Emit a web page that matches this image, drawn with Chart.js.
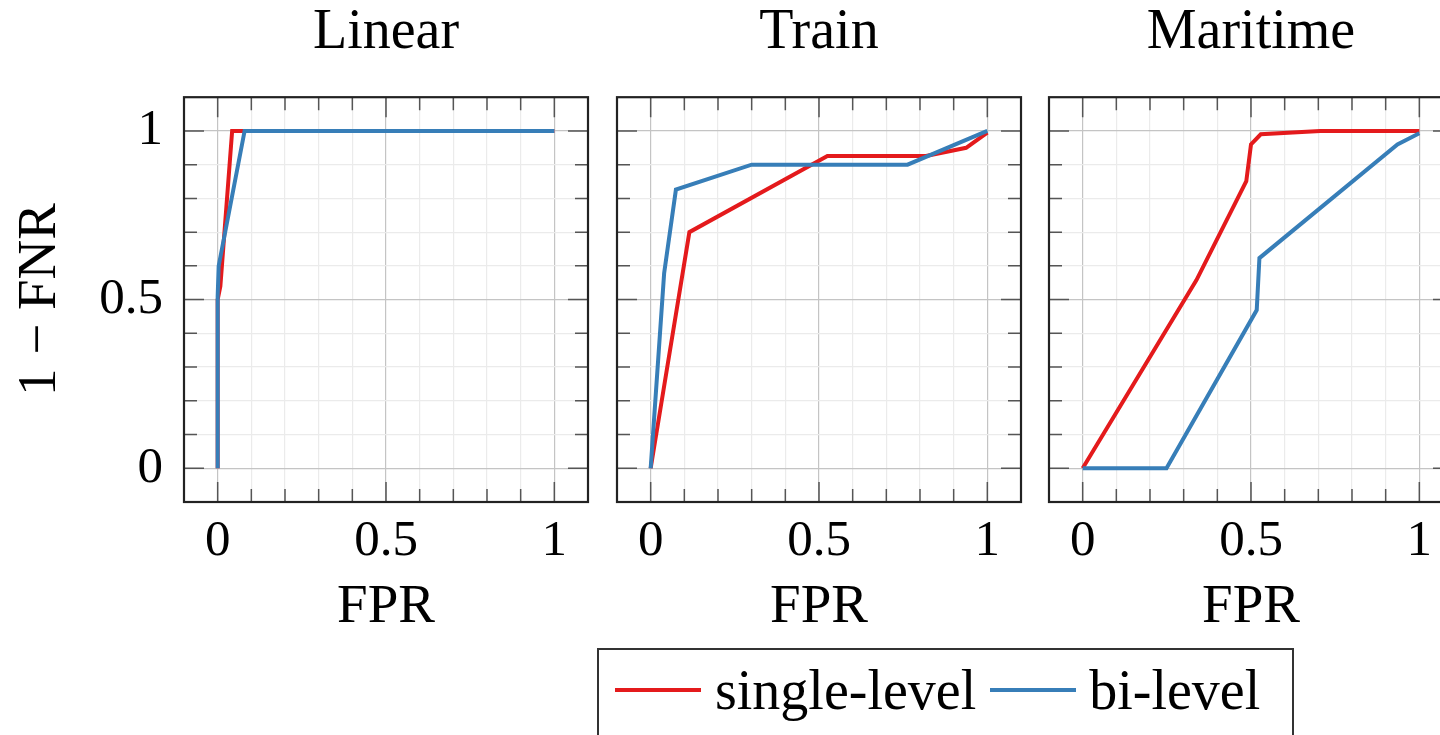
<!DOCTYPE html>
<html>
<head>
<meta charset="utf-8">
<script src="https://cdn.jsdelivr.net/npm/chart.js@4.4.0/dist/chart.umd.min.js"></script>
<style>
  html, body { margin: 0; padding: 0; background: #fff; width: 1440px; height: 735px; overflow: hidden; position: relative; }
  canvas.panel { position: absolute; top: 0; }
  #legend {
    position: absolute; left: 597px; top: 648px; width: 697px; height: 130px;
    box-sizing: border-box; border: 2px solid #333; background: #fff;
    font-family: "Liberation Serif", serif; font-size: 56px; color: #000;
  }
  #legend .row { display: flex; align-items: center; position: absolute; left: 16px; top: 8px; height: 64px; line-height: 64px; }
  #legend .swatch { display: inline-block; width: 86px; height: 4px; }
</style>
</head>
<body>
<canvas id="p0" class="panel" width="628" height="650" style="left:0px"></canvas>
<canvas id="p1" class="panel" width="628" height="650" style="left:433px"></canvas>
<canvas id="p2" class="panel" width="628" height="650" style="left:865px"></canvas>
<div id="legend">
  <div class="row">
    <span class="swatch" style="background:#e41a1c"></span>
    <span style="margin-left:14px">single-level</span>
    <span class="swatch" style="background:#377eb8;margin-left:14px"></span>
    <span style="margin-left:13px">bi-level</span>
  </div>
</div>
<script>
// values: [FPR, 1 - FNR]
const panelTitles = ['Linear', 'Train', 'Maritime'];
const tickValues = [0, 0.5, 1];

const linearSingle = [[0, 0], [0, 0.5], [0.008, 0.54], [0.043, 1], [1, 1]];
const linearBi = [[0, 0], [0, 0.51], [0.003, 0.6], [0.08, 1], [1, 1]];

const trainSingle = [[0, 0], [0.115, 0.70], [0.525, 0.926], [0.818, 0.926], [0.937, 0.95], [1, 0.995]];
const trainBi = [[0, 0], [0.04, 0.578], [0.075, 0.826], [0.30, 0.90], [0.763, 0.90], [1, 1]];

const maritimeSingle = [[0, 0], [0.338, 0.558], [0.486, 0.851], [0.50, 0.96], [0.529, 0.99], [0.706, 1], [1, 1]];
const maritimeBi = [[0, 0], [0.249, 0], [0.517, 0.469], [0.525, 0.623], [0.935, 0.96], [1, 0.993]];

const RED = '#e41a1c';
const BLUE = '#377eb8';
const serif = 'Liberation Serif';

function isMajor(v) {
  return tickValues.some(t => Math.abs(t - v) < 1e-6);
}
function isEdge(v) {
  return Math.abs(v + 0.1) < 1e-6 || Math.abs(v - 1.1) < 1e-6;
}
function tickLabel(v) {
  if (!isMajor(v)) return '';
  return Math.abs(v - 0.5) < 1e-6 ? '0.5' : String(Math.round(v));
}

// inward tick marks on all four sides + frame, like pgfplots
const frameTicks = {
  id: 'frameTicks',
  afterDatasetsDraw(chart) {
    const ctx = chart.ctx;
    const a = chart.chartArea;
    const xs = chart.scales.x, ys = chart.scales.y;
    ctx.save();
    ctx.strokeStyle = '#555';
    ctx.lineWidth = 1.5;
    ctx.beginPath();
    xs.ticks.forEach(t => {
      if (isEdge(t.value)) return;
      const len = isMajor(t.value) ? 20 : 13;
      const px = xs.getPixelForValue(t.value);
      ctx.moveTo(px, a.top); ctx.lineTo(px, a.top + len);
      ctx.moveTo(px, a.bottom); ctx.lineTo(px, a.bottom - len);
    });
    ys.ticks.forEach(t => {
      if (isEdge(t.value)) return;
      const len = isMajor(t.value) ? 20 : 13;
      const py = ys.getPixelForValue(t.value);
      ctx.moveTo(a.left, py); ctx.lineTo(a.left + len, py);
      ctx.moveTo(a.right, py); ctx.lineTo(a.right - len, py);
    });
    ctx.stroke();
    ctx.strokeStyle = '#222';
    ctx.lineWidth = 2.2;
    ctx.strokeRect(a.left, a.top, a.right - a.left, a.bottom - a.top);
    ctx.restore();
  }
};

function gridColor(c) {
  const v = c.tick.value;
  if (isEdge(v)) return 'rgba(0,0,0,0)';
  return isMajor(v) ? '#c4c4c4' : '#ebebeb';
}

function makePanel(id, title, single, bi, first) {
  new Chart(document.getElementById(id), {
    type: 'line',
    data: {
      datasets: [
        {
          label: 'bi-level',
          data: bi.map(p => ({ x: p[0], y: p[1] })),
          borderColor: BLUE,
          borderWidth: 4,
          pointRadius: 0,
          tension: 0,
          fill: false
        },
        {
          label: 'single-level',
          data: single.map(p => ({ x: p[0], y: p[1] })),
          borderColor: RED,
          borderWidth: 4,
          pointRadius: 0,
          tension: 0,
          fill: false
        }
      ]
    },
    options: {
      responsive: false,
      animation: false,
      events: [],
      layout: { padding: { left: 0, right: 40, top: 0, bottom: 0 } },
      scales: {
        x: {
          type: 'linear',
          min: -0.1,
          max: 1.1,
          afterFit: s => { s.height = 148; },
          ticks: {
            stepSize: 0.1,
            autoSkip: false,
            maxRotation: 0,
            padding: 9,
            color: '#000',
            font: { family: serif, size: 51 },
            callback: v => tickLabel(v)
          },
          grid: { color: gridColor, lineWidth: 1.2, drawTicks: false },
          border: { display: false },
          title: {
            display: true,
            text: 'FPR',
            color: '#000',
            font: { family: serif, size: 55 },
            padding: { top: 0, bottom: 9 }
          }
        },
        y: {
          type: 'linear',
          min: -0.1,
          max: 1.1,
          afterFit: s => { s.width = 184; },
          ticks: {
            display: first,
            stepSize: 0.1,
            autoSkip: false,
            padding: 21,
            color: '#000',
            font: { family: serif, size: 51 },
            callback: v => tickLabel(v)
          },
          grid: { color: gridColor, lineWidth: 1.2, drawTicks: false },
          border: { display: false },
          title: {
            display: first,
            text: '1 \u2212 FNR',
            color: '#000',
            font: { family: serif, size: 55 },
            padding: { top: 8, bottom: 0 }
          }
        }
      },
      plugins: {
        legend: { display: false },
        tooltip: { enabled: false },
        title: {
          display: true,
          text: title,
          fullSize: false,
          color: '#000',
          font: { family: serif, size: 56, weight: 'normal' },
          padding: { top: 0, bottom: 30 }
        }
      }
    },
    plugins: [frameTicks]
  });
}

makePanel('p0', panelTitles[0], linearSingle, linearBi, true);
makePanel('p1', panelTitles[1], trainSingle, trainBi, false);
makePanel('p2', panelTitles[2], maritimeSingle, maritimeBi, false);
</script>
</body>
</html>
